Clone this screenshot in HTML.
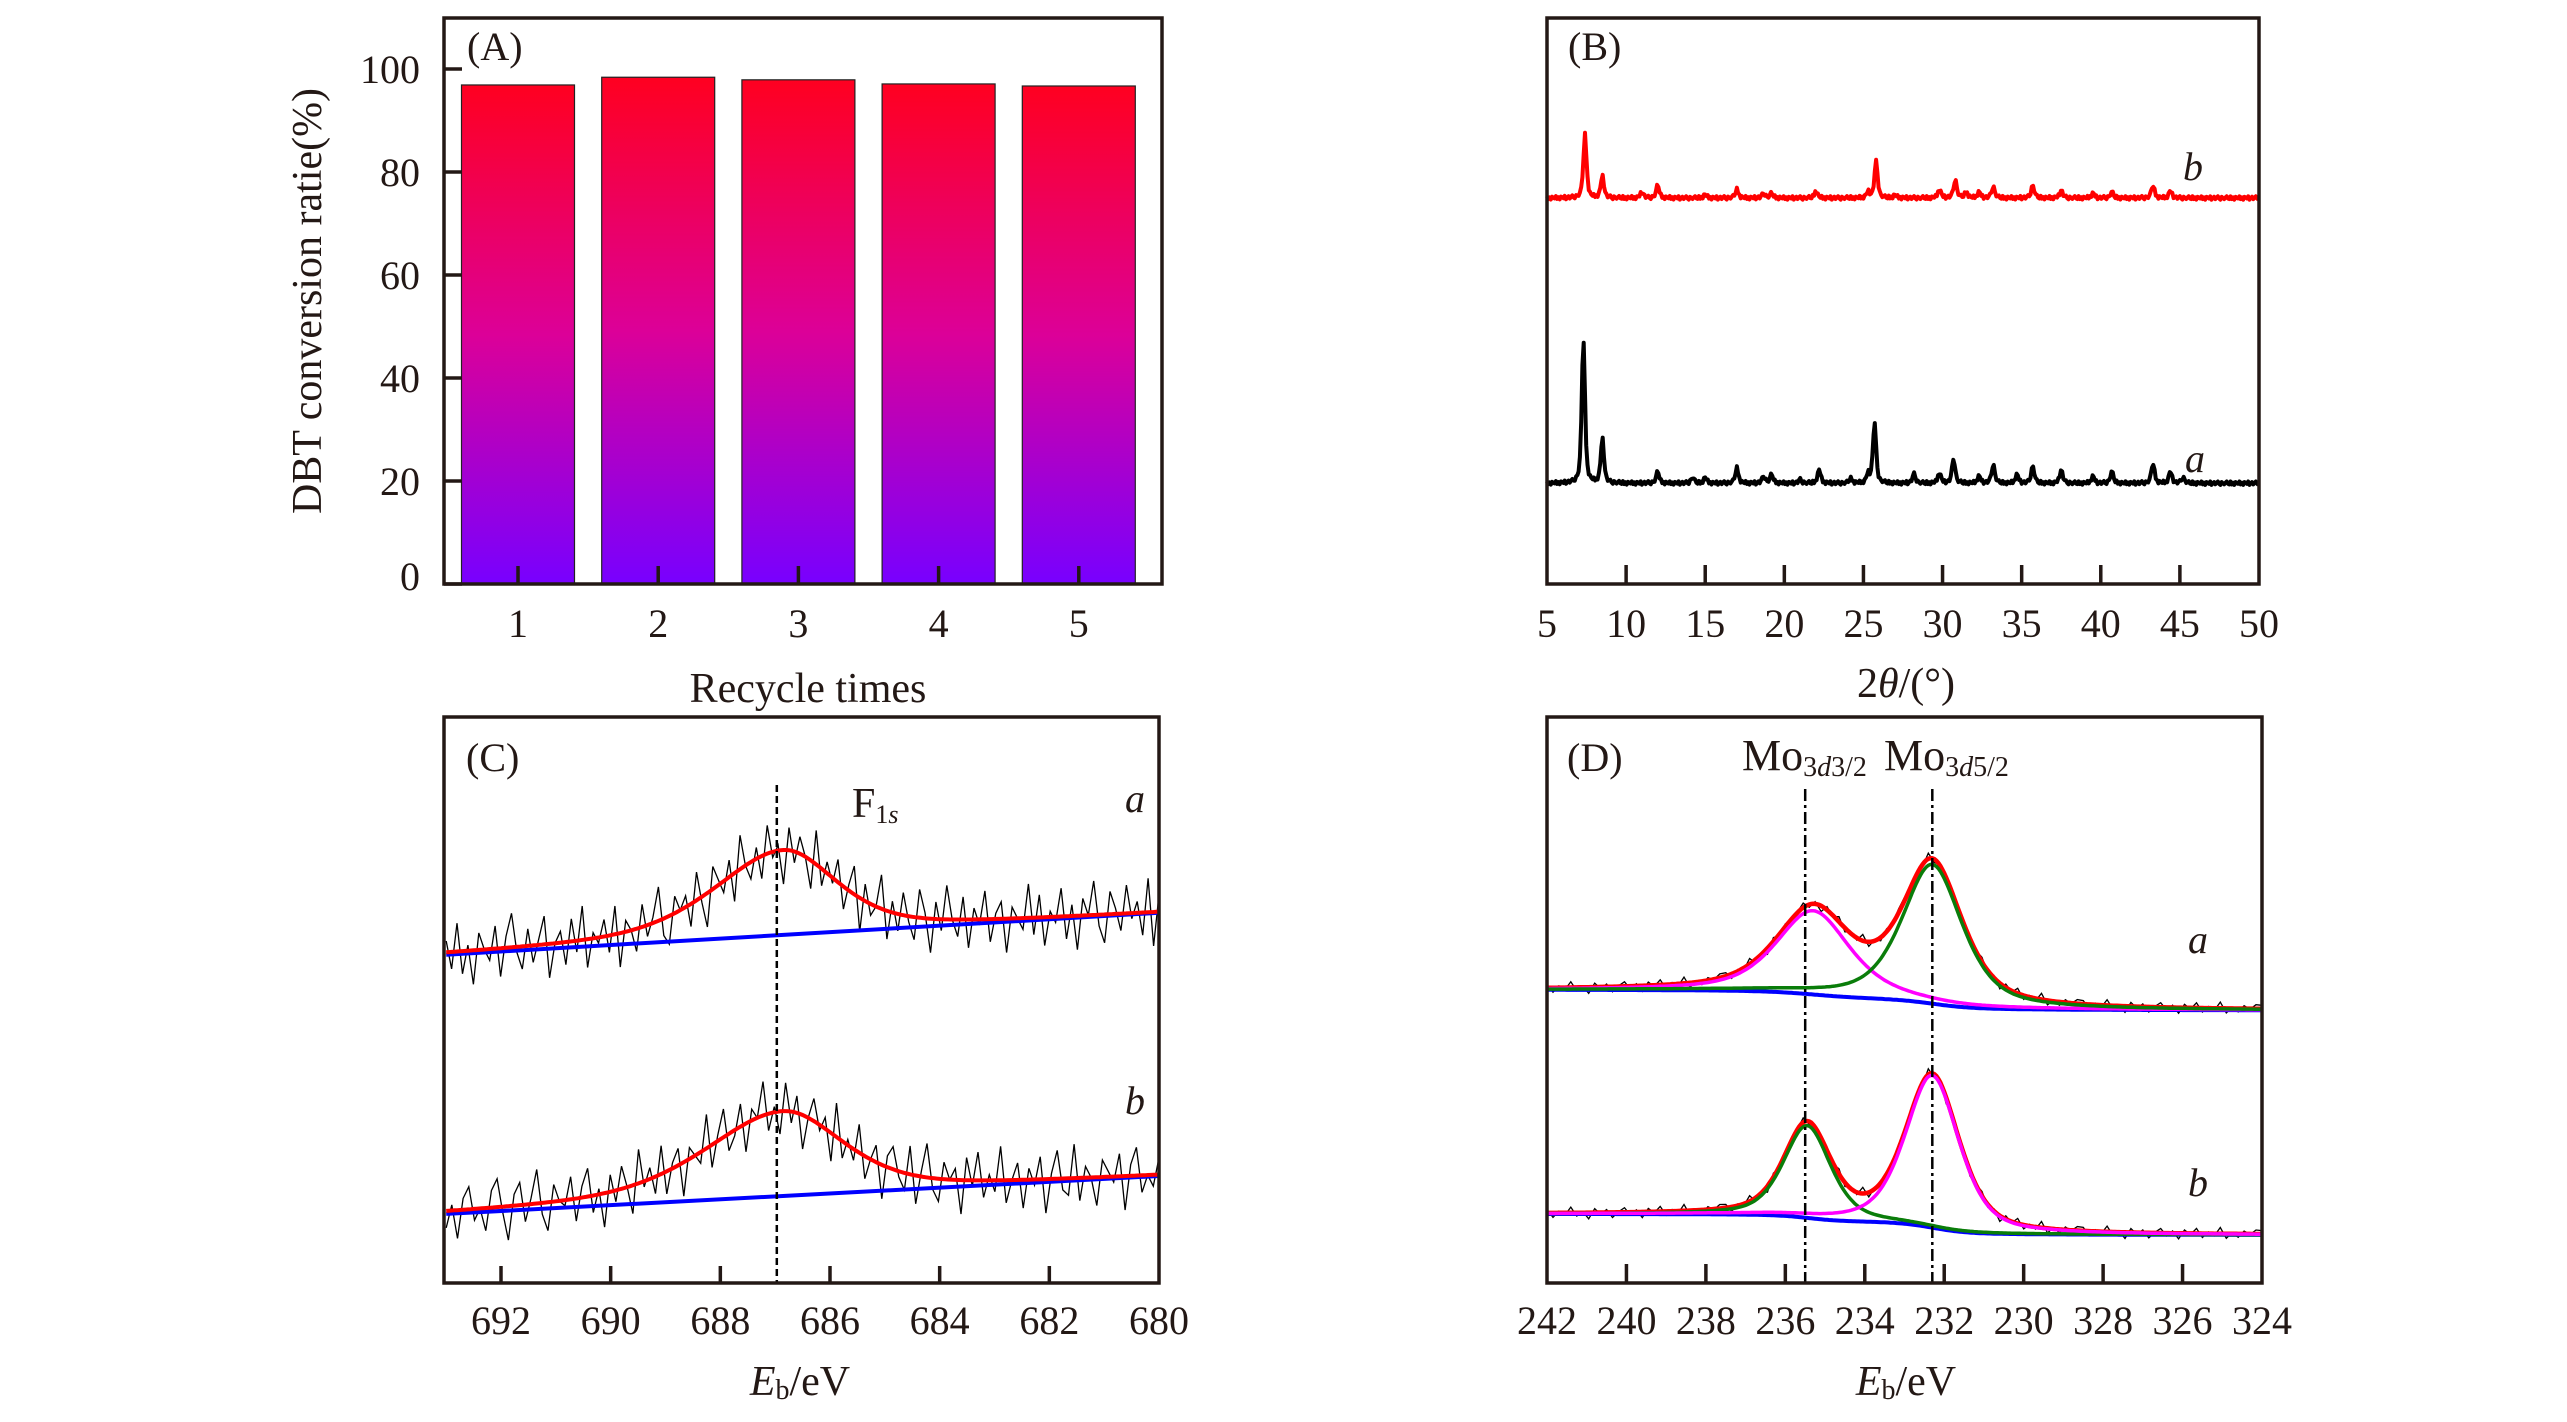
<!DOCTYPE html>
<html><head><meta charset="utf-8"><style>
html,body{margin:0;padding:0;background:#fff;}
svg, svg text{font-family:"Liberation Serif","DejaVu Serif",serif;}
</style></head><body>
<svg id="fig" width="2567" height="1417" viewBox="0 0 2567 1417" xmlns="http://www.w3.org/2000/svg" font-family="Liberation Serif, DejaVu Serif, serif">
<defs>
<linearGradient id="barGrad" x1="0" y1="0" x2="0" y2="1">
<stop offset="0" stop-color="#ff0020"/><stop offset="0.5" stop-color="#dc0098"/><stop offset="1" stop-color="#7800ff"/>
</linearGradient>
</defs>
<g id="pA"></g>
<g id="pB"></g>
<g id="pC"></g>
<g id="pD"></g>
</svg>
<script>
// ---------- Panel A data ----------
const recycleCats = [1,2,3,4,5];
const conversionVals = [96.9,98.4,97.9,97.1,96.7];
const aYTicks = [0,20,40,60,80,100];
// ---------- Panel B data (XRD peaks: position, height) ----------
const xrdTicks = [5,10,15,20,25,30,35,40,45,50];
const xrdBaseA = 17.8;
const xrdBaseB = 68.2;
const xrdPosA = [7.3,8.5,12,14.2,15,17,18.7,19.2,21,22.2,24.2,25.3,25.7,28.2,29.8,30.7,32.3,33.2,34.7,35.7,37.5,39.5,40.7,43.3,44.4,45.2];
const xrdHtA  = [25.6,7.8,2,1,1,2.7,1.2,1.5,0.6,2.4,0.8,1.5,10.7,1.6,1.8,4.3,1.2,3.3,1.5,3.0,2.3,1.2,2.0,3.5,2.0,1.0];
const xrdPosB = [7.4,8.5,11,12,15,17,18.7,19.2,22,25.3,25.8,27,29.8,30.8,31.5,32.3,33.2,35.7,37.5,39.5,40.7,43.3,44.4];
const xrdHtB  = [11.2,3.8,1,2.2,0.6,1.5,0.8,0.8,1.2,1,6.4,0.5,1.5,3.2,1,1,2,2.2,1.3,0.8,1,2.2,1.2];
const xrdNoise = [0.3,-0.2,0.1,-0.3,0.2,0,-0.1,0.3,-0.2,0.1,-0.3,0.2,0.1,-0.1,0.3,-0.3,0,0.2,-0.2,0.1,0.3,-0.1,-0.3,0.2,0,-0.2,0.1,0.3,-0.1,-0.2];
// ---------- Panel C data ----------
const cTicks = [692,690,688,686,684,682,680];
const cBaseA = [58.0,65.4];
const cBaseB = [12.2,18.9];
const cPeakA = [686.85,15,3.0,2.3];
const cPeakB = [686.85,15,3.4,2.6];
const resA = [2,-3,5,-4,1,-6,3,0,-2,4,-5,2,6,-1,-4,3,-3,1,5,-6,0,2,-4,4,-2,6,-5,1,-1,3,-3,5,-6,2,0,-4,4,-2,1,6,-3,-5,3,0,2,-4,5,-1,-6,4,1,-2,3,-5,6,0,-3,2,-4,5,-1,1,-6,4,-2,3,0,-5,6,-3,2,-1,4,-4,1,5,-6,3,-2,0,6,-5,2,-3,4,-1,-4,5,1,-6,3,-2,6,0,-3,4,-5,2,-1,5,-4,1,3,-6,2,0,-2,6,-3,4,-5,1,-1,5,-4,2,-6,3,0,6,-2,-5,4,1,-3,5,-1,2,-4,6,-6,3];
const resB = [-3,1,-5,2,4,-2,0,-4,3,5,-1,-6,2,4,-3,1,6,-2,-5,3,0,-1,4,-4,2,5,-3,1,-6,3,-2,4,0,-5,6,-1,2,-3,5,-4,1,3,-6,2,0,-2,6,-4,1,5,-3,-1,4,-5,2,0,6,-3,1,-4,5,-2,3,-6,0,4,-1,2,-5,6,-3,1,-2,5,-4,0,3,-6,2,4,-1,-3,5,-5,1,6,-2,-4,3,0,2,-6,4,-1,5,-3,1,-2,6,-4,0,3,-5,2,-1,4,-6,1,5,-2,-3,6,-4,2,0,-5,3,1,-1,4,-6,2,5,-3,0,-2,3];
// ---------- Panel D data ----------
const dTickVals = [242,240,238,236,234,232,230,228,226,224];
const dTickLabels = ["242","240","238","236","234","232","230","328","326","324"];
const dBaseA = [51.8,48.2];
const dBaseB = [12.2,8.5];
const dMagA = [235.3,14.8,2.2,0.6];
const dGrnA = [232.3,24.6,1.8,0.6];
const dGrnB = [235.45,16.3,1.4,0.5];
const dMagB = [232.3,26.9,1.6,0.5];
const dLines = [235.5,232.3];
const dNoise = [0.6,-0.8,0.3,-0.4,1.0,-0.6,0.2,-1.1,0.7,-0.3,0.5,-0.9,0.1,0.8,-0.5,0.4,-1.0,0.6,-0.2,0.9,-0.7,0.3,-0.4,1.1,-0.8,0.2,-0.6,0.5,-0.1,0.7];

const NS="http://www.w3.org/2000/svg";
const FF="Liberation Serif, DejaVu Serif, serif";
function mk(parent,tag,attrs,text){const e=document.createElementNS(NS,tag);for(const k in attrs)e.setAttribute(k,attrs[k]);if(tag==='text')e.setAttribute('font-family',FF);if(text!==undefined)e.textContent=text;parent.appendChild(e);return e;}
function lin(d0,d1,r0,r1){return v=>r0+(v-d0)*(r1-r0)/(d1-d0);}
function pathFrom(pts){return pts.map((p,i)=>(i?'L':'M')+p[0].toFixed(1)+','+p[1].toFixed(1)).join('');}
function pv(x,c,h,w,eta){const t=(x-c)/w;return h*(eta/(1+4*t*t)+(1-eta)*Math.exp(-4*Math.LN2*t*t));}
function frame(g,x0,y0,x1,y1){const r=mk(g,'rect',{x:x0,y:y0,width:x1-x0,height:y1-y0,fill:'none',stroke:'#231815','stroke-width':3.5});

}

// ================= Panel A =================
(function(){
const g=document.getElementById('pA');
const X0=444,X1=1162,Y0=18,Y1=584;
const xs=c=>518+(c-1)*140.2;
const ys=lin(0,100,584,69);
const bw=113;
recycleCats.forEach((c,i)=>{
 const y=ys(conversionVals[i]);
 const r=mk(g,'rect',{x:xs(c)-bw/2,y:y,width:bw,height:Y1-y,fill:'url(#barGrad)',stroke:'#222','stroke-width':1.2});
 
 
 const t=mk(g,'line',{x1:xs(c),x2:xs(c),y1:Y1,y2:Y1-18,stroke:'#231815','stroke-width':3.5});
 
 
 const l=mk(g,'text',{x:xs(c),y:637,'font-size':40,'text-anchor':'middle',fill:'#231815'},String(c));
 
 
});
aYTicks.forEach(v=>{
 const y=ys(v);
 const t=mk(g,'line',{x1:X0,x2:X0+18,y1:y,y2:y,stroke:'#231815','stroke-width':3.5});
 
 
 const l=mk(g,'text',{x:420,y:(v===0?y-8:y)+14,'font-size':40,'text-anchor':'end',fill:'#231815'},String(v));
 
 
});
frame(g,X0,Y0,X1,Y1);
const pl=mk(g,'text',{x:467,y:60,'font-size':40,fill:'#231815'},'(A)');


const xt=mk(g,'text',{x:808,y:702,'font-size':42,'text-anchor':'middle',fill:'#231815'},'Recycle times');


const yt=mk(g,'text',{x:0,y:0,'font-size':42,'text-anchor':'middle',fill:'#231815',transform:'translate(321,301) rotate(-90)'},'DBT conversion ratie(%)');


})();

// ================= Panel B =================
(function(){
const g=document.getElementById('pB');
const X0=1547,X1=2259,Y0=18,Y1=584;
const xs=lin(5,50,X0,X1), ys=lin(0,100,584,18);
function pattern(base,pos,ht){const pts=[];let k=0;for(let x=5;x<=50.001;x+=0.08){let y=base+xrdNoise[k%xrdNoise.length];k++;for(let i=0;i<pos.length;i++)y+=pv(x,pos[i],ht[i],0.24,0.6);pts.push([xs(x),ys(y)]);}return pts;}
const pa=mk(g,'path',{d:pathFrom(pattern(xrdBaseA,xrdPosA,xrdHtA)),fill:'none',stroke:'#000','stroke-width':4,'stroke-linejoin':'round'});


const pb=mk(g,'path',{d:pathFrom(pattern(xrdBaseB,xrdPosB,xrdHtB)),fill:'none',stroke:'#ff0000','stroke-width':4,'stroke-linejoin':'round'});


xrdTicks.forEach(v=>{
 const x=xs(v);
 if(v>5&&v<50){const t=mk(g,'line',{x1:x,x2:x,y1:Y1,y2:Y1-19,stroke:'#231815','stroke-width':3.5});
 
 }
 const l=mk(g,'text',{x:x,y:637,'font-size':40,'text-anchor':'middle',fill:'#231815'},String(v));
 
 
});
frame(g,X0,Y0,X1,Y1);
const pl=mk(g,'text',{x:1568,y:60,'font-size':40,fill:'#231815'},'(B)');


const la=mk(g,'text',{x:2195,y:472,'font-size':40,'font-style':'italic',fill:'#231815','text-anchor':'middle'},'a');


const lb=mk(g,'text',{x:2193,y:180,'font-size':40,'font-style':'italic',fill:'#231815','text-anchor':'middle'},'b');


const xt=mk(g,'text',{x:1906,y:697,'font-size':42,'text-anchor':'middle',fill:'#231815'});


mk(xt,'tspan',{},'2');mk(xt,'tspan',{'font-style':'italic'},'θ');mk(xt,'tspan',{},'/(°)');
})();

// ================= Panel C =================
(function(){
const g=document.getElementById('pC');
const X0=444,X1=1159,Y0=717,Y1=1283;
const xs=lin(680,692,1159,501), ys=lin(0,100,1283,717);
const Emax=693.0, Emin=680.0;
function base(b,E){return b[0]+(b[1]-b[0])*(Emax-E)/(Emax-Emin);}
function peak(p,E){return pv(E,p[0],p[1],E>p[0]?p[2]:p[3],0.5);}
function raw(b,p,res){const pts=[];const n=res.length;for(let i=0;i<n;i++){const E=Emax-i*(Emax-Emin)/(n-1);pts.push([xs(E),ys(base(b,E)+peak(p,E)+res[i])]);}return pts;}
function fit(b,p){const pts=[];for(let E=Emax;E>=Emin-0.001;E-=0.05)pts.push([xs(E),ys(base(b,E)+peak(p,E))]);return pts;}
function bl(b){return [[xs(Emax),ys(base(b,Emax))],[xs(Emin),ys(base(b,Emin))]];}
[[cBaseA,cPeakA,resA,'a'],[cBaseB,cPeakB,resB,'b']].forEach(s=>{
 const r=mk(g,'path',{d:pathFrom(raw(s[0],s[1],s[2])),fill:'none',stroke:'#000','stroke-width':1.3});
 
 
 const b=mk(g,'path',{d:pathFrom(bl(s[0])),fill:'none',stroke:'#0000ff','stroke-width':4});
 
 
 const f=mk(g,'path',{d:pathFrom(fit(s[0],s[1])),fill:'none',stroke:'#ff0000','stroke-width':4});
 
 
});
const dl=mk(g,'line',{x1:xs(686.97),x2:xs(686.97),y1:785,y2:Y1,stroke:'#000','stroke-width':2.5,'stroke-dasharray':'7,4'});


cTicks.forEach(v=>{
 const x=xs(v);
 if(v>680){const t=mk(g,'line',{x1:x,x2:x,y1:Y1,y2:Y1-17,stroke:'#231815','stroke-width':3.5});
 
 }
 const l=mk(g,'text',{x:x,y:1334,'font-size':40,'text-anchor':'middle',fill:'#231815'},String(v));
 
 
});
frame(g,X0,Y0,X1,Y1);
const pl=mk(g,'text',{x:466,y:771,'font-size':40,fill:'#231815'},'(C)');


const ft=mk(g,'text',{x:852,y:817,'font-size':42,fill:'#231815'});


mk(ft,'tspan',{},'F');mk(ft,'tspan',{'font-size':26,dy:6},'1');mk(ft,'tspan',{'font-size':26,'font-style':'italic'},'s');
const la=mk(g,'text',{x:1135,y:812,'font-size':40,'font-style':'italic',fill:'#231815','text-anchor':'middle'},'a');


const lb=mk(g,'text',{x:1135,y:1114,'font-size':40,'font-style':'italic',fill:'#231815','text-anchor':'middle'},'b');


const xt=mk(g,'text',{x:800,y:1395,'font-size':42,'text-anchor':'middle',fill:'#231815'});


mk(xt,'tspan',{'font-style':'italic'},'E');mk(xt,'tspan',{'font-size':28,dy:4},'b');mk(xt,'tspan',{dy:-4},'/eV');
})();

// ================= Panel D =================
(function(){
const g=document.getElementById('pD');
const X0=1547,X1=2262,Y0=717,Y1=1283;
const xs=lin(242,224,X0,X1), ys=lin(0,100,1283,717);
const Es=[];for(let E=242;E>=224-0.001;E-=0.05)Es.push(E);
function comp(p,E){return pv(E,p[0],p[1],p[2],p[3]);}
function shirley(b,p1,p2){const s=Es.map(E=>comp(p1,E)+comp(p2,E));const cum=[];let acc=0;for(let i=Es.length-1;i>=0;i--){acc+=s[i];cum[i]=acc;}const tot=acc;return Es.map((E,i)=>b[1]+(b[0]-b[1])*cum[i]/tot);}
function draw(b,p1,c1,p2,c2,tag,topFirst){
 const B=shirley(b,p1,p2);
 const raw=mk(g,'path',{d:pathFrom(Es.filter((E,i)=>i%3===0).map((E,j)=>{const i=j*3;return [xs(E),ys(B[i]+comp(p1,E)+comp(p2,E)+dNoise[j%dNoise.length])];})),fill:'none',stroke:'#000','stroke-width':1.3});
 
 
 const bl=mk(g,'path',{d:pathFrom(Es.map((E,i)=>[xs(E),ys(B[i])])),fill:'none',stroke:'#0000ff','stroke-width':4});
 
 
 const tot=mk(g,'path',{d:pathFrom(Es.map((E,i)=>[xs(E),ys(B[i]+comp(p1,E)+comp(p2,E))])),fill:'none',stroke:'#ff0000','stroke-width':4.5});
 
 
 const f1=mk(g,'path',{d:pathFrom(Es.map((E,i)=>[xs(E),ys(B[i]+comp(p1,E))])),fill:'none',stroke:c1,'stroke-width':3.5});
 
 
 const f2=mk(g,'path',{d:pathFrom(Es.map((E,i)=>[xs(E),ys(B[i]+comp(p2,E))])),fill:'none',stroke:c2,'stroke-width':3.5});
 
 
}
draw(dBaseA,dMagA,'#ff00ff',dGrnA,'#0a7d0a','a');
draw(dBaseB,dGrnB,'#0a7d0a',dMagB,'#ff00ff','b');
dLines.forEach(E=>{
 const l=mk(g,'line',{x1:xs(E),x2:xs(E),y1:789,y2:Y1,stroke:'#000','stroke-width':2.5,'stroke-dasharray':'12,4,3,4'});
 
 
});
dTickVals.forEach((v,i)=>{
 const x=xs(v);
 if(v<242&&v>224){const t=mk(g,'line',{x1:x,x2:x,y1:Y1,y2:Y1-19,stroke:'#231815','stroke-width':3.5});
 
 }
 const l=mk(g,'text',{x:x,y:1334,'font-size':40,'text-anchor':'middle',fill:'#231815'},dTickLabels[i]);
 
 
});
frame(g,X0,Y0,X1,Y1);
const pl=mk(g,'text',{x:1567,y:771,'font-size':40,fill:'#231815'},'(D)');


[['Mo3d3/2',1742,'3/2'],['Mo3d5/2',1884,'5/2']].forEach(m=>{
 const t=mk(g,'text',{x:m[1],y:770,'font-size':44,fill:'#231815'});
 
 
 mk(t,'tspan',{},'Mo');mk(t,'tspan',{'font-size':28,dy:6},'3');mk(t,'tspan',{'font-size':28,'font-style':'italic'},'d');mk(t,'tspan',{'font-size':28},m[2]);
});
const la=mk(g,'text',{x:2198,y:953,'font-size':40,'font-style':'italic',fill:'#231815','text-anchor':'middle'},'a');


const lb=mk(g,'text',{x:2198,y:1196,'font-size':40,'font-style':'italic',fill:'#231815','text-anchor':'middle'},'b');


const xt=mk(g,'text',{x:1906,y:1395,'font-size':42,'text-anchor':'middle',fill:'#231815'});


mk(xt,'tspan',{'font-style':'italic'},'E');mk(xt,'tspan',{'font-size':28,dy:4},'b');mk(xt,'tspan',{dy:-4},'/eV');
})();
</script>
</body></html>
